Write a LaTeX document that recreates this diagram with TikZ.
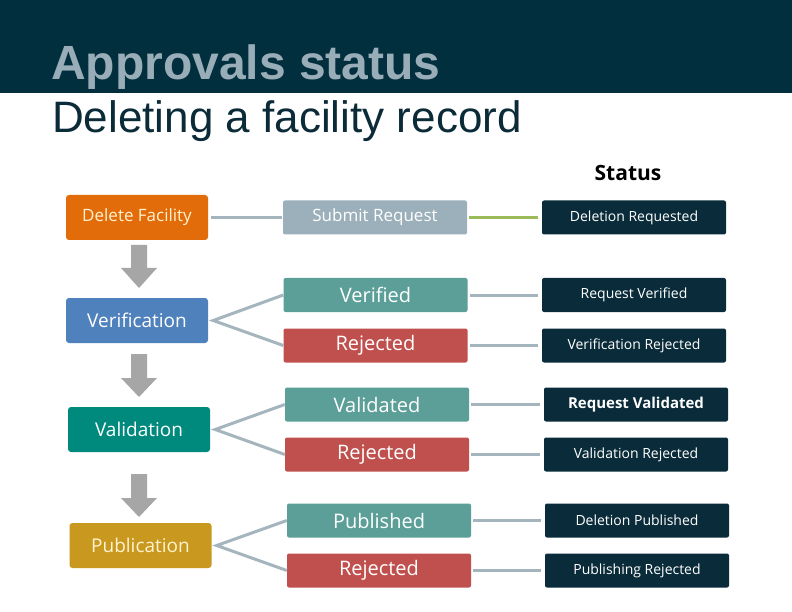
\documentclass[tikz,border=0pt]{standalone}
\usepackage{fontspec}
\setmainfont{Open Sans}
\newfontfamily\titlefont{Liberation Sans}
\definecolor{hdr}{HTML}{022F3D}
\definecolor{ttl}{HTML}{98ADB8}
\definecolor{sub}{HTML}{0B2B38}
\definecolor{orng}{HTML}{E36C0A}
\definecolor{blu}{HTML}{4F81BD}
\definecolor{tealA}{HTML}{00897D}
\definecolor{gold}{HTML}{C9981E}
\definecolor{cream}{HTML}{FFF3D0}
\definecolor{grayb}{HTML}{9BB0BA}
\definecolor{tealB}{HTML}{5B9F98}
\definecolor{redB}{HTML}{C0504D}
\definecolor{dark}{HTML}{0A2C3A}
\definecolor{lineg}{HTML}{A5B5BE}
\definecolor{lineG}{HTML}{9BBB59}
\definecolor{arr}{HTML}{A6A6A6}
\begin{document}
\begin{tikzpicture}[x=1pt,y=-1pt,
  lbox/.style={rounded corners=3pt, minimum width=142pt, minimum height=45pt, inner sep=0pt, font=\fontsize{17}{20}\selectfont},
  mbox/.style={rounded corners=2pt, minimum width=184pt, minimum height=34pt, inner sep=0pt, text=white, font=\fontsize{20}{24}\selectfont},
  rbox/.style={rounded corners=2pt, fill=dark, minimum width=184pt, minimum height=34pt, inner sep=0pt, text=white, font=\fontsize{14}{17}\selectfont},
  conn/.style={draw=lineg, line width=3pt},
  blockarrow/.style={fill=arr}
]
\useasboundingbox (0,0) rectangle (792,612);
\fill[white] (0,0) rectangle (792,612);
\fill[hdr] (0,0) rectangle (792,93);
\node[anchor=base west, inner sep=0pt, text=ttl, font=\titlefont\bfseries\fontsize{48}{56}\selectfont] (title) at (51,80) {Approvals status};
\node[anchor=base west, inner sep=0pt, text=sub, font=\titlefont\fontsize{44}{50}\selectfont] (subtitle) at (52,133) {Deleting a facility record};
\node[font=\bfseries\fontsize{21}{25}\selectfont, text=black] (status) at (628,173) {Status};

% left column
\node[lbox, fill=orng, text=cream] (del) at (137,217.5) {Delete Facility};
\node[lbox, fill=blu, text=white, font=\fontsize{19}{22}\selectfont] (ver) at (137,320.5) {Verification};
\node[lbox, fill=tealA, text=white, font=\fontsize{19}{22}\selectfont] (val) at (139,429.5) {Validation};
\node[lbox, fill=gold, text=cream, font=\fontsize{19}{22}\selectfont] (pub) at (140.5,545.5) {Publication};

% middle column
\node[mbox, fill=grayb, font=\fontsize{17}{20}\selectfont] (sr) at (375,217.5) {Submit Request};
\node[mbox, fill=tealB] (vfd) at (375.5,295) {Verified};
\node[mbox, fill=redB] (rj1) at (375.5,345.5) {Rejected};
\node[mbox, fill=tealB] (vld) at (377,404.5) {Validated};
\node[mbox, fill=redB] (rj2) at (377,454.5) {Rejected};
\node[mbox, fill=tealB] (pbd) at (379,520.5) {Published};
\node[mbox, fill=redB] (rj3) at (379,570.5) {Rejected};

% right column
\node[rbox] (s1) at (634,217.5) {Deletion Requested};
\node[rbox] (s2) at (634,295) {Request Verified};
\node[rbox] (s3) at (634,345.5) {Verification Rejected};
\node[rbox, font=\bfseries\fontsize{15}{18}\selectfont] (s4) at (636,404.5) {Request Validated};
\node[rbox] (s5) at (636,454.5) {Validation Rejected};
\node[rbox] (s6) at (637,520.5) {Deletion Published};
\node[rbox] (s7) at (637,570.5) {Publishing Rejected};

% connectors left -> middle
\draw[conn, shorten <=3pt, shorten >=1pt] (del.east) -- (sr.west);
\coordinate (verx) at ([xshift=5pt]ver.east);
\coordinate (valx) at ([xshift=5pt]val.east);
\coordinate (pubx) at ([xshift=5pt]pub.east);
\draw[conn] (vfd.west) -- (verx) -- (rj1.west);
\draw[conn] (vld.west) -- (valx) -- (rj2.west);
\draw[conn] (pbd.west) -- (pubx) -- (rj3.west);

% connectors middle -> right
\draw[draw=lineG, line width=3pt, shorten <=2pt, shorten >=4pt] (sr.east) -- (s1.west);
\draw[conn, shorten <=2pt, shorten >=4pt] (vfd.east) -- (s2.west);
\draw[conn, shorten <=2pt, shorten >=4pt] (rj1.east) -- (s3.west);
\draw[conn, shorten <=2pt, shorten >=4pt] (vld.east) -- (s4.west);
\draw[conn, shorten <=2pt, shorten >=4pt] (rj2.east) -- (s5.west);
\draw[conn, shorten <=2pt, shorten >=4pt] (pbd.east) -- (s6.west);
\draw[conn, shorten <=2pt, shorten >=4pt] (rj3.east) -- (s7.west);

% block arrows
\foreach \cx/\ty/\hy/\tip in {139/245/268/288, 139/354/378/397, 139/474/498/517}{
  \fill[blockarrow] (\cx-8,\ty) -- (\cx+8,\ty) -- (\cx+8,\hy) -- (\cx+18,\hy) -- (\cx,\tip) -- (\cx-18,\hy) -- (\cx-8,\hy) -- cycle;
}
\end{tikzpicture}
\end{document}
